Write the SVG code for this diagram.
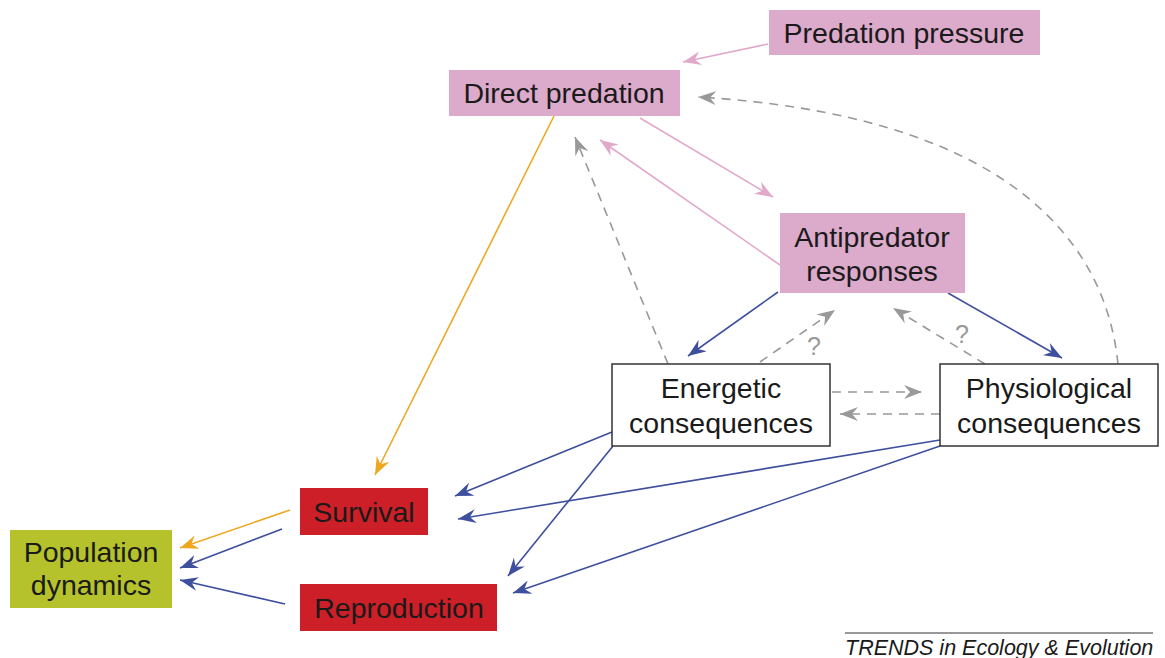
<svg xmlns="http://www.w3.org/2000/svg" width="1165" height="658" viewBox="0 0 1165 658">
<style>
.t{font-family:"Liberation Sans",Arial,sans-serif;font-size:28.5px;fill:#1a1a1a;text-anchor:middle}
.pink{fill:#dcaacb}
.red{fill:#cc1f27}
.green{fill:#b6c22b}
.white{fill:#fff;stroke:#333;stroke-width:1.5}
.c{fill:none;stroke-width:1.6}
.cp{stroke:#e2a8ca}
.co{stroke:#eea81f}
.cb{stroke:#3e4f9e}
.cg{stroke:#999;stroke-dasharray:9 7}
.q{font-family:"Liberation Sans",Arial,sans-serif;font-size:25px;fill:#999;text-anchor:middle}
</style>
<defs>
<marker id="mp" viewBox="0 0 18 14" refX="18" refY="7" markerWidth="18" markerHeight="14" markerUnits="userSpaceOnUse" orient="auto"><path d="M0,0 L18,7 L0,14 L6,7 z" fill="#e2a8ca"/></marker>
<marker id="mo" viewBox="0 0 18 14" refX="18" refY="7" markerWidth="18" markerHeight="14" markerUnits="userSpaceOnUse" orient="auto"><path d="M0,0 L18,7 L0,14 L6,7 z" fill="#eea81f"/></marker>
<marker id="mb" viewBox="0 0 18 14" refX="18" refY="7" markerWidth="18" markerHeight="14" markerUnits="userSpaceOnUse" orient="auto"><path d="M0,0 L18,7 L0,14 L6,7 z" fill="#3e4f9e"/></marker>
<marker id="mg" viewBox="0 0 18 14" refX="18" refY="7" markerWidth="18" markerHeight="14" markerUnits="userSpaceOnUse" orient="auto"><path d="M0,0 L18,7 L0,14 L6,7 z" fill="#999"/></marker>
</defs>
<rect width="1165" height="658" fill="#fff"/>
<g id="connectors">
<path class="c cp" d="M768,44 L683,62" marker-end="url(#mp)"/>
<path class="c co" d="M554,116 L375,475" marker-end="url(#mo)"/>
<path class="c cp" d="M640,118 L773,197" marker-end="url(#mp)"/>
<path class="c cp" d="M780,265 L600,140" marker-end="url(#mp)"/>
<path class="c cg" d="M668,364 L575,137" marker-end="url(#mg)"/>
<path class="c cg" d="M1118,364 C1105,235 1000,115 698,97" marker-end="url(#mg)"/>
<path class="c cb" d="M778,292 L688,356" marker-end="url(#mb)"/>
<path class="c cb" d="M948,293 L1062,358" marker-end="url(#mb)"/>
<path class="c cg" d="M760,362 L835,310" marker-end="url(#mg)"/>
<path class="c cg" d="M985,364 L893,308" marker-end="url(#mg)"/>
<path class="c cg" d="M832,392 L922,392" marker-end="url(#mg)"/>
<path class="c cg" d="M940,414 L840,414" marker-end="url(#mg)"/>
<path class="c cb" d="M612,432 L455,496" marker-end="url(#mb)"/>
<path class="c cb" d="M613,446 L508,576" marker-end="url(#mb)"/>
<path class="c cb" d="M940,440 L458,519" marker-end="url(#mb)"/>
<path class="c cb" d="M940,446 L513,593" marker-end="url(#mb)"/>
<path class="c co" d="M290,510 L180,548" marker-end="url(#mo)"/>
<path class="c cb" d="M282,529 L180,568" marker-end="url(#mb)"/>
<path class="c cb" d="M285,604 L180,580" marker-end="url(#mb)"/>
<text class="q" x="814" y="355">?</text>
<text class="q" x="962" y="343">?</text>
</g>
<g id="predation-pressure"><rect class="pink" x="769" y="10" width="271" height="45"/><text class="t" x="904" y="43">Predation pressure</text></g>
<g id="direct-predation"><rect class="pink" x="449" y="70" width="231" height="46"/><text class="t" x="564" y="103">Direct predation</text></g>
<g id="antipredator-responses"><rect class="pink" x="780" y="213" width="185" height="80"/><text class="t" x="872" y="247">Antipredator</text><text class="t" x="872" y="281">responses</text></g>
<g id="energetic-consequences"><rect class="white" x="612" y="364" width="218" height="82"/><text class="t" x="721" y="398">Energetic</text><text class="t" x="721" y="433">consequences</text></g>
<g id="physiological-consequences"><rect class="white" x="940" y="364" width="218" height="82"/><text class="t" x="1049" y="398">Physiological</text><text class="t" x="1049" y="433">consequences</text></g>
<g id="survival"><rect class="red" x="300" y="488" width="128" height="47"/><text class="t" x="364" y="522">Survival</text></g>
<g id="reproduction"><rect class="red" x="300" y="584" width="197" height="47"/><text class="t" x="399" y="618">Reproduction</text></g>
<g id="population-dynamics"><rect class="green" x="10" y="530" width="162" height="78"/><text class="t" x="91" y="562">Population</text><text class="t" x="91" y="595">dynamics</text></g>
<g id="footer"><line x1="845" y1="633" x2="1153" y2="633" stroke="#333" stroke-width="1.2"/><text x="845" y="655" font-family="'Liberation Sans',Arial,sans-serif" font-size="21.5" font-style="italic" fill="#1a1a1a">TRENDS in Ecology &amp; Evolution</text></g>
</svg>
